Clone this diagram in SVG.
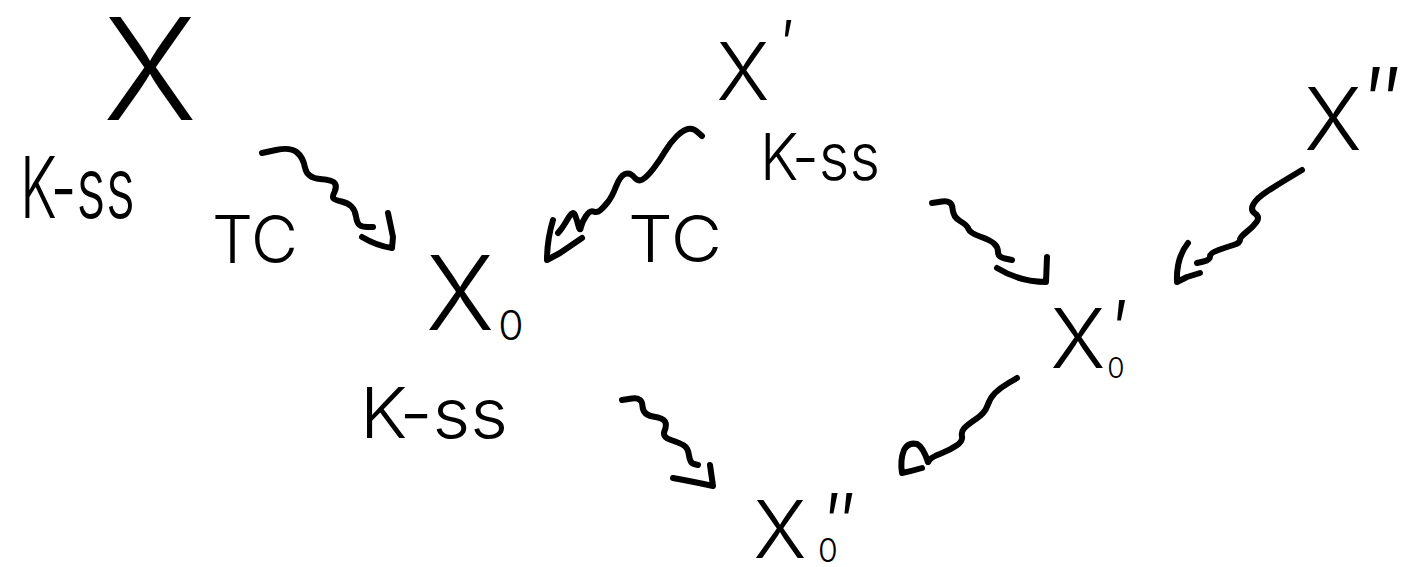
<svg xmlns="http://www.w3.org/2000/svg" width="1405" height="567" viewBox="0 0 1405 567">
<style>
.t{font-family:"Inter","DejaVu Sans","Liberation Sans",sans-serif;font-weight:300;fill:#000}
.m{text-anchor:middle}
.c{fill:none;stroke:#000;stroke-width:6;stroke-linecap:round;stroke-linejoin:round}
</style>
<rect width="1405" height="567" fill="#fff"/>
<g id="connectors">
<g id="e-X-X0">
<path class="c" d="M262,153 L276,150 Q290,147 296.5,152 Q303,157 305,167.5 Q307,178 320,179 Q333,180 335,183.5 Q337,187 334.5,192 Q332,197 333.5,198.5 Q335,200 341.5,201.5 Q348,203 351.5,206.5 Q355,210 356,216.5 Q357,223 359.5,225 Q362,227 367.5,227 L373,227"/>
<path class="c" d="M362,237 Q377,246 392,248 L393,237 L388,213"/>
</g>
<g id="e-X1-X0">
<path class="c" d="M702,136 L697.5,132 Q693,128 688,129 Q683,130 676.5,136.5 Q670,143 665,151.5 Q660,160 653.5,168.5 Q647,177 642.5,179.5 Q638,182 634,177 Q630,172 625,174 Q620,176 616,186.5 Q612,197 607.5,202.5 Q603,208 600,210.5 Q597,213 593.5,211.5 Q590,210 586,216 Q582,222 581,227 Q580,232 578.5,226 Q577,220 575,215 Q573,210 568,218.5 Q563,227 560.5,230 L558,233"/>
<path class="c" d="M553,220 Q547,240 547,260 L560,253 L582,238"/>
</g>
<g id="e-X1-X10">
<path class="c" d="M932,203 L942,201.5 Q952,200 952.5,208.5 Q953,217 960,221 Q967,225 968.5,229 Q970,233 980,236.5 Q990,240 994,243.5 Q998,247 998,252 Q998,257 1005,258.5 L1012,260"/>
<path class="c" d="M997,268 Q1020,282 1046,282 L1047,257"/>
</g>
<g id="e-X2-X10">
<path class="c" d="M1302,170 L1289.5,177.5 Q1277,185 1267,191.5 Q1257,198 1253.5,204 Q1250,210 1255,213.5 Q1260,217 1256.5,222 Q1253,227 1246.5,232 Q1240,237 1240,240 Q1240,243 1233.5,245 Q1227,247 1218.5,250 Q1210,253 1210,256.5 Q1210,260 1203.5,261.5 L1197,263"/>
<path class="c" d="M1188,243 Q1176,258 1177,282 L1187,277 L1200,273"/>
</g>
<g id="e-X0-X20">
<path class="c" d="M622,400 L632,398.5 Q642,397 642.5,406 Q643,415 653,416.5 Q663,418 665,421.5 Q667,425 664.5,431 Q662,437 671,440 Q680,443 684,445.5 Q688,448 689,455.5 Q690,463 694,464 L698,465"/>
<path class="c" d="M673,478 Q695,482 713,486 L710,465"/>
</g>
<g id="e-X10-X20">
<path class="c" d="M1017,378 L1008.5,383 Q1000,388 995,393 Q990,398 987.5,405.5 Q985,413 976,419 Q967,425 964,428.5 Q961,432 962,436.5 Q963,441 956.5,445.5 Q950,450 941,453.5 Q932,457 930,459.5 L928,462"/>
<path class="c" d="M928,462 Q923,447 917,444 Q908,442 904,450 Q900,460 902,473 Q912,471 922,468"/>
</g>
</g>
<g id="n-X"><text class="t m" x="150" y="120" font-size="142">X</text></g>
<g id="n-X1">
<text class="t m" x="743" y="100" font-size="80">X</text>
<text class="t m" x="788" y="67" font-size="65">′</text>
</g>
<g id="n-X2">
<text class="t m" x="1333" y="150" font-size="87">X</text>
<text class="t m" x="1384" y="136" font-size="95">″</text>
</g>
<g id="n-X0">
<text class="t m" x="460" y="330" font-size="103">X</text>
<text class="t m" x="511" y="340" font-size="41">0</text>
</g>
<g id="n-X10">
<text class="t m" x="1078" y="368" font-size="83">X</text>
<text class="t m" x="1121" y="358" font-size="80">′</text>
<text class="t m" x="1116" y="378" font-size="28">0</text>
</g>
<g id="n-X20">
<text class="t m" x="780" y="558" font-size="80">X</text>
<text class="t m" x="841" y="551" font-size="80">″</text>
<text class="t m" x="828" y="562" font-size="32">0</text>
</g>
<g id="labels">
<text class="t" x="20" y="218" font-size="85" textLength="115" lengthAdjust="spacingAndGlyphs">K-ss</text>
<text class="t" x="212" y="263" font-size="66" textLength="86" lengthAdjust="spacingAndGlyphs">TC</text>
<text class="t" x="628" y="262" font-size="65" textLength="94" lengthAdjust="spacingAndGlyphs">TC</text>
<text class="t" x="760" y="180" font-size="65" textLength="120" lengthAdjust="spacingAndGlyphs">K-ss</text>
<text class="t" x="360" y="438" font-size="70" textLength="148" lengthAdjust="spacingAndGlyphs">K-ss</text>
</g>
</svg>
